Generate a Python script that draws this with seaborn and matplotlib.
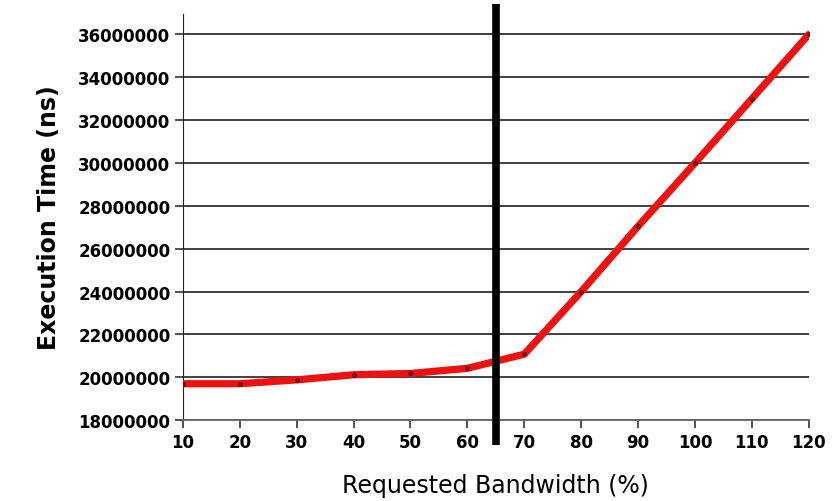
import pandas as pd
import seaborn as sns
import matplotlib.pyplot as plt

# ==================== 数据 ====================
bandwidth = [10, 20, 30, 40, 50, 60, 70, 80, 90, 100, 110, 120]
exec_time = [19700000, 19700000, 19880000, 20120000, 20180000, 20420000,
             21080000, 24000000, 27050000, 30000000, 33000000, 36000000]
y_ticks = list(range(18000000, 36000001, 2000000))
threshold_x = 65

df = pd.DataFrame({"Bandwidth": bandwidth, "Time": exec_time})

# ==================== 绘图 ====================
sns.set_style("white")
plt.rcParams['font.family'] = ['DejaVu Sans']
plt.rcParams['text.color'] = 'black'
plt.rcParams['axes.labelcolor'] = 'black'
plt.rcParams['xtick.color'] = 'black'
plt.rcParams['ytick.color'] = 'black'

fig = plt.figure(figsize=(8.39, 5.02), dpi=100)
ax = fig.add_axes([0.218, 0.161, 0.746, 0.809])

sns.lineplot(data=df, x="Bandwidth", y="Time", ax=ax,
             color="#ee1111", linewidth=5.2, marker="o", markersize=3,
             markerfacecolor="#7a1010", markeredgecolor="#7a1010", zorder=3)

# 垂直分界线
ax.axvline(threshold_x, ymin=-0.06, ymax=1.025, color="black",
           linewidth=5.5, clip_on=False, zorder=4, solid_capstyle="butt")

ax.set_xlim(10, 120)
ax.set_ylim(18000000, 36950000)
ax.set_xticks(bandwidth)
ax.set_yticks(y_ticks)
ax.set_yticklabels([str(v) for v in y_ticks])
ax.yaxis.grid(True, color="#333333", linewidth=1.3)
ax.xaxis.grid(False)

for side in ["top", "right"]:
    ax.spines[side].set_visible(False)
ax.spines["left"].set_color("#222222")
ax.spines["bottom"].set_color("#666666")
ax.spines["bottom"].set_linewidth(1.3)

ax.tick_params(axis="both", direction="out", length=6, width=1.2,
               color="#333333", labelsize=12, pad=3,
               bottom=True, left=True)
for lbl in ax.get_xticklabels() + ax.get_yticklabels():
    lbl.set_fontweight("bold")

ax.set_xlabel("Requested Bandwidth (%)", fontsize=17, labelpad=16)
ax.set_ylabel("Execution Time (ns)", fontsize=17, fontweight="bold", labelpad=12)

plt.savefig("out.png", dpi=100)
